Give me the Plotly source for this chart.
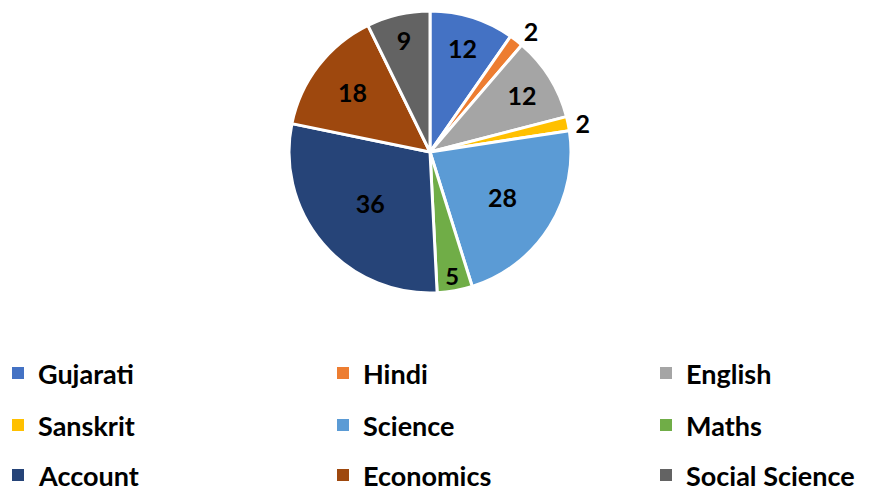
import plotly.graph_objects as go

subjects = ["Gujarati", "Hindi", "English", "Sanskrit", "Science", "Maths",
            "Account", "Economics", "Social Science"]
counts = [12, 2, 12, 2, 28, 5, 36, 18, 9]
colors = ["#4472C4", "#ED7D31", "#A5A5A5", "#FFC000", "#5B9BD5", "#70AD47",
          "#264478", "#9E480E", "#636363"]
text_pos = ["inside", "outside", "inside", "outside", "inside", "inside",
            "inside", "inside", "inside"]

W, H = 869, 492
FONT = "Lato"

fig = go.Figure(go.Pie(
    labels=subjects, values=counts, sort=False, direction="clockwise",
    rotation=0,
    marker=dict(colors=colors, line=dict(color="white", width=3)),
    texttemplate="%{value}", textposition=text_pos,
    insidetextorientation="horizontal",
    textfont=dict(family=FONT, size=25, color="black", weight="bold"),
    domain=dict(x=[(430 - 141) / W, (430 + 141) / W],
                y=[1 - 293 / H, 1 - 11 / H]),
    showlegend=False, hoverinfo="label+value",
))

# manual 3-column legend
col_x = [12, 337, 660]
row_y = [373, 425, 475]
shapes, annotations = [], []
for i, (name, col) in enumerate(zip(subjects, colors)):
    cx = col_x[i % 3]
    cy = row_y[i // 3]
    shapes.append(dict(type="rect", xref="paper", yref="paper",
                       x0=cx / W, x1=(cx + 12) / W,
                       y0=1 - (cy + 6) / H, y1=1 - (cy - 6) / H,
                       fillcolor=col, line=dict(width=0)))
    annotations.append(dict(xref="paper", yref="paper", x=(cx + 24) / W,
                            y=1 - cy / H, xanchor="left", yanchor="middle",
                            text=name, showarrow=False,
                            font=dict(family=FONT, size=27, color="black",
                                      weight="bold")))

fig.update_layout(width=W, height=H, margin=dict(l=0, r=0, t=0, b=0),
                  paper_bgcolor="white", plot_bgcolor="white",
                  shapes=shapes, annotations=annotations)
fig.write_html("out.html", config={"displayModeBar": False},
               post_script="document.body.style.margin='0';"
                           "document.body.style.padding='0';")
